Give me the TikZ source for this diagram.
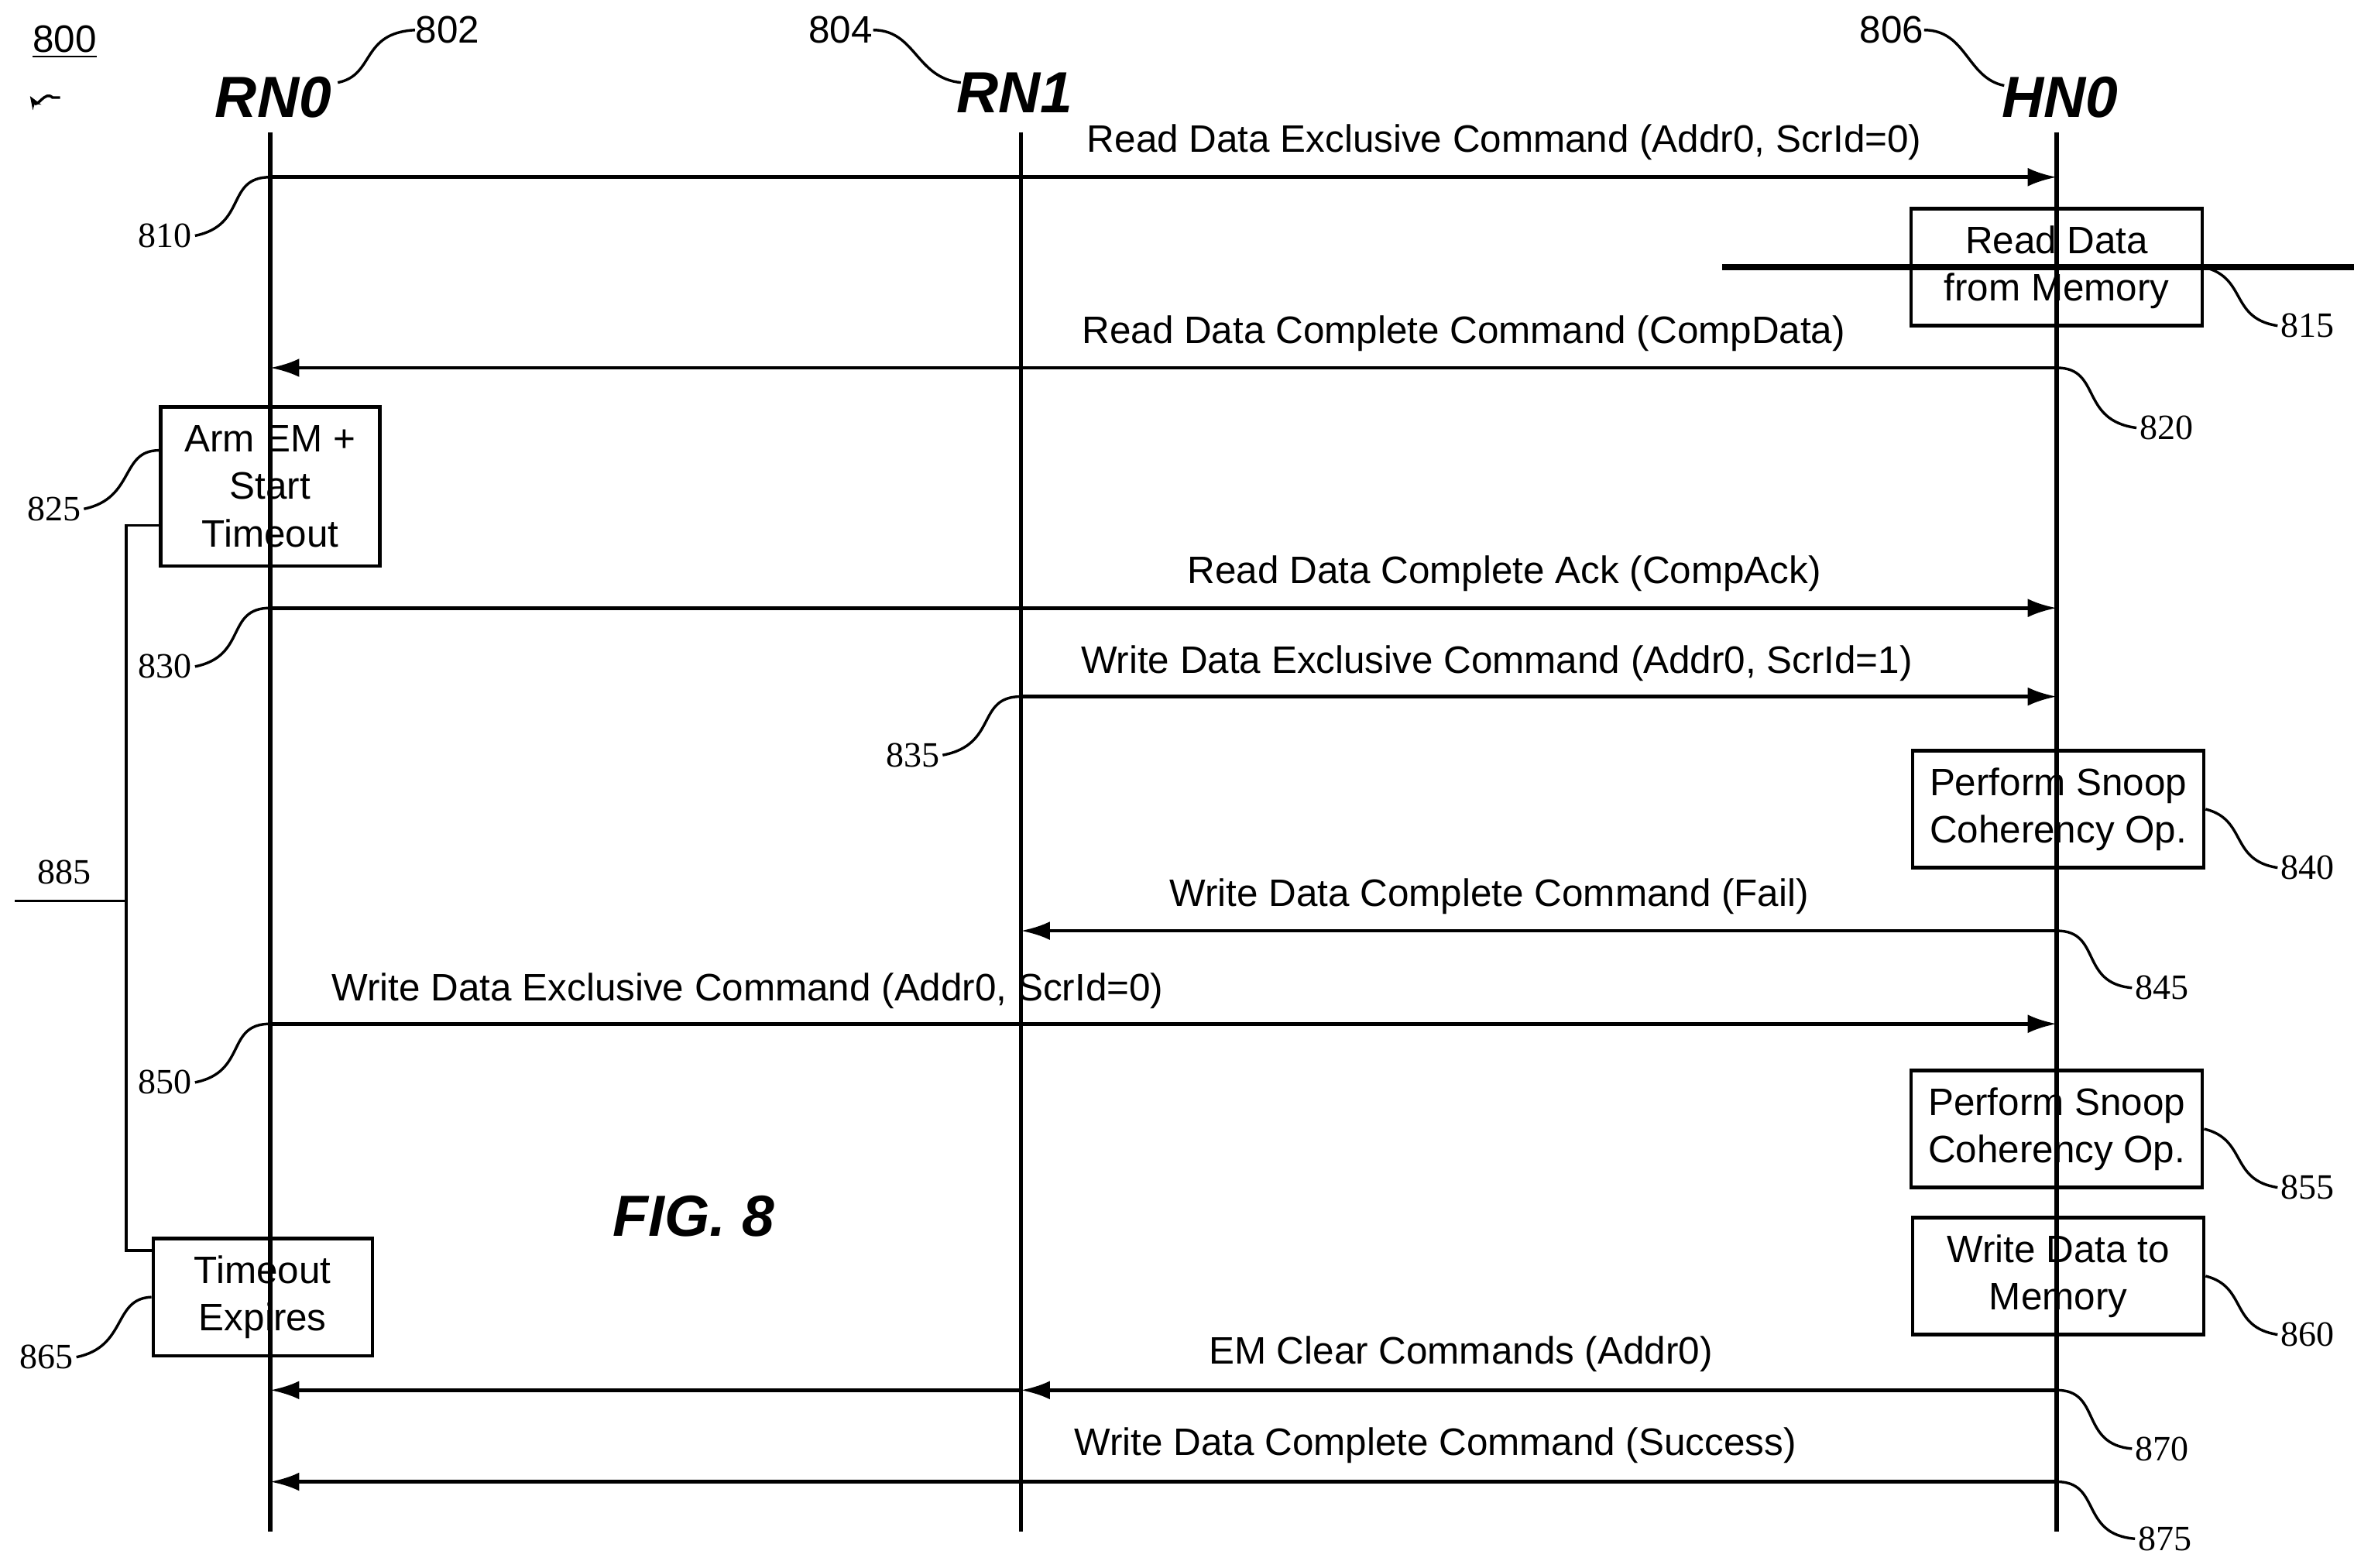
\documentclass[tikz,border=0pt]{standalone}
\usepackage{fontspec}
\setmainfont{Liberation Serif}
\newfontfamily\arial{Liberation Sans}
\usetikzlibrary{arrows.meta}
\begin{document}
\begin{tikzpicture}[x=0.02cm,y=-0.02cm,
  msg/.style={line width=1.4pt,-{Latex[length=11pt,width=7pt]}},
  life/.style={line width=1.6pt},
  lbl/.style={font=\arial\fontsize{14.5}{17}\selectfont,inner sep=0pt},
  box/.style={draw,line width=1.3pt,font=\arial\fontsize{14.5}{18}\selectfont,align=center,inner sep=0pt},
  ref/.style={font=\fontsize{13.5}{16}\selectfont,inner sep=1pt},
  lead/.style={line width=1pt},
  head/.style={font=\arial\bfseries\itshape\fontsize{22}{26}\selectfont,inner sep=0pt}]
\useasboundingbox (0,0) rectangle (1568,1044);
% lifelines
\coordinate (a0) at (180,88); \coordinate (a1) at (180,1020);
\coordinate (b0) at (680,88); \coordinate (b1) at (680,1020);
\coordinate (c0) at (1370,88); \coordinate (c1) at (1370,1020);
\draw[life] (a0)--(a1); \draw[life] (b0)--(b1); \draw[life] (c0)--(c1);
\node[head] (RN0) at (182,65) {RN0};
\node[head] (RN1) at (676,62) {RN1};
\node[head] (HN0) at (1372,65) {HN0};
\node[lbl] (n802) at (298,20) {802};
\node[lbl] (n804) at (560,20) {804};
\node[lbl] (n806) at (1260,20) {806};
\draw[lead] (225,55) .. controls (250,50) and (240,22) .. (n802.west);
\draw[lead] (n804.east) .. controls (610,20) and (610,52) .. (640,55);
\draw[lead] (n806.east) .. controls (1310,20) and (1310,52) .. (1335,57);
\node[lbl,font=\arial\fontsize{14.5}{17}\selectfont] (n800) at (43,28) {\underline{800}};
\draw[lead,-{Stealth[length=5pt]}] (40,65) -- (35,65) .. controls (30,60) and (25,72) .. (20,64);
% messages
\coordinate (m810a) at (180,118); \coordinate (m810b) at (1370,118);
\draw[msg] (m810a)--(m810b);
\node[lbl] at (1002,95) {Read Data Exclusive Command (Addr0, ScrId=0)};
\node[box,minimum width=194\pgflinewidth,text width=180] (b815) at (1370,178) {};
\node[box,minimum width=3.88cm,minimum height=1.56cm] (b815) at (1370,178) {Read Data\\from Memory};
\coordinate (m820a) at (1370,245); \coordinate (m820b) at (180,245);
\draw[msg] (m820a)--(m820b);
\node[lbl] at (975,222) {Read Data Complete Command (CompData)};
\node[box,minimum width=2.92cm,minimum height=2.12cm] (b825) at (180,324) {Arm EM +\\Start\\Timeout};
\coordinate (m830a) at (180,405); \coordinate (m830b) at (1370,405);
\draw[msg] (m830a)--(m830b);
\node[lbl] at (1002,382) {Read Data Complete Ack (CompAck)};
\coordinate (m835a) at (680,464); \coordinate (m835b) at (1370,464);
\draw[msg] (m835a)--(m835b);
\node[lbl] at (997,442) {Write Data Exclusive Command (Addr0, ScrId=1)};
\node[box,minimum width=3.88cm,minimum height=1.56cm] (b840) at (1371,539) {Perform Snoop\\Coherency Op.};
\coordinate (m845a) at (1370,620); \coordinate (m845b) at (680,620);
\draw[msg] (m845a)--(m845b);
\node[lbl] at (992,597) {Write Data Complete Command (Fail)};
\coordinate (m850a) at (180,682); \coordinate (m850b) at (1370,682);
\draw[msg] (m850a)--(m850b);
\node[lbl] at (498,660) {Write Data Exclusive Command (Addr0, ScrId=0)};
\node[box,minimum width=3.88cm,minimum height=1.56cm] (b855) at (1370,752) {Perform Snoop\\Coherency Op.};
\node[box,minimum width=3.88cm,minimum height=1.56cm] (b860) at (1371,850) {Write Data to\\Memory};
\node[box,minimum width=2.92cm,minimum height=1.56cm] (b865) at (175,864) {Timeout\\Expires};
\coordinate (m870a) at (1370,926); \coordinate (m870m) at (680,926); \coordinate (m870b) at (180,926);
\draw[msg] (m870a)--(m870m);
\draw[msg] (m870m)--(m870b);
\node[lbl] at (973,902) {EM Clear Commands (Addr0)};
\coordinate (m875a) at (1370,987); \coordinate (m875b) at (180,987);
\draw[msg] (m875a)--(m875b);
\node[lbl] at (956,963) {Write Data Complete Command (Success)};
% refs
\node[ref] (r810) at (110,157) {810};
\draw[lead] (r810.east) .. controls (165,150) and (150,118) .. (m810a);
\node[ref] (r830) at (110,444) {830};
\draw[lead] (r830.east) .. controls (165,437) and (150,405) .. (m830a);
\node[ref] (r850) at (110,721) {850};
\draw[lead] (r850.east) .. controls (165,714) and (150,682) .. (m850a);
\node[ref] (r835) at (608,503) {835};
\draw[lead] (r835.east) .. controls (665,496) and (650,464) .. (m835a);
\node[ref] (r825) at (36,339) {825};
\draw[lead] (r825.east) .. controls (90,332) and (80,300) .. (b825.west |- 0,300);
\node[ref] (r865) at (31,904) {865};
\draw[lead] (r865.east) .. controls (85,897) and (75,865) .. (b865.west);
\node[ref] (r815) at (1537,217) {815};
\draw[lead] (b815.east) .. controls (1497,185) and (1485,212) .. (r815.west);
\node[ref] (r840) at (1537,578) {840};
\draw[lead] (b840.east) .. controls (1497,546) and (1485,573) .. (r840.west);
\node[ref] (r855) at (1537,791) {855};
\draw[lead] (b855.east) .. controls (1497,759) and (1485,786) .. (r855.west);
\node[ref] (r860) at (1537,889) {860};
\draw[lead] (b860.east) .. controls (1497,857) and (1485,884) .. (r860.west);
\node[ref] (r820) at (1443,285) {820};
\draw[lead] (m820a) .. controls (1400,245) and (1385,280) .. (r820.west);
\node[ref] (r845) at (1440,658) {845};
\draw[lead] (m845a) .. controls (1400,620) and (1385,655) .. (r845.west);
\node[ref] (r870) at (1440,965) {870};
\draw[lead] (m870a) .. controls (1400,926) and (1385,962) .. (r870.west);
\node[ref] (r875) at (1442,1025) {875};
\draw[lead] (m875a) .. controls (1400,987) and (1385,1022) .. (r875.west);
% bracket 885
\coordinate (k1) at (107,350); \coordinate (k2) at (102,833);
\draw[lead] (k1) -- (84,350) -- (84,833) -- (k2);
\node[ref] (r885) at (43,581) {885};
\coordinate (k3) at (10,600);
\draw[lead] (k3) -- (84,600);
\node[font=\arial\bfseries\itshape\fontsize{22}{26}\selectfont] (fig) at (462,810) {FIG. 8};
\end{tikzpicture}
\end{document}
